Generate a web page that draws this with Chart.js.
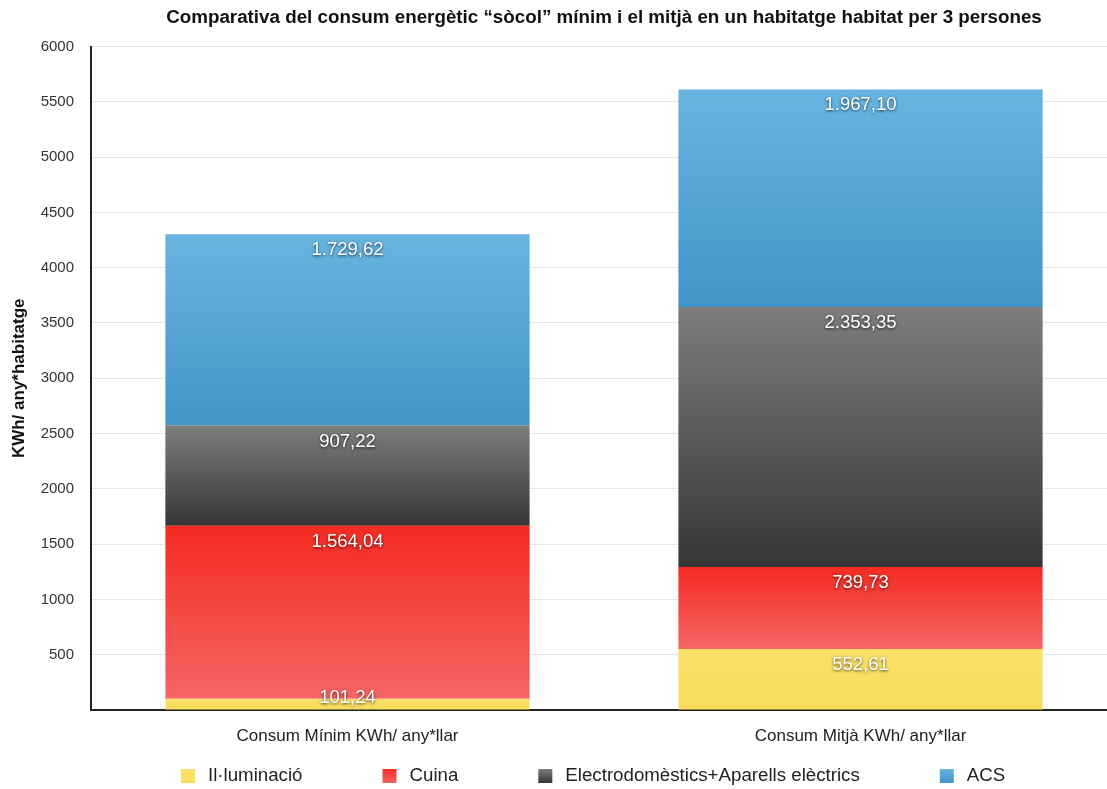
<!DOCTYPE html>
<html>
<head>
<meta charset="utf-8">
<script src="https://cdn.jsdelivr.net/npm/chart.js@4/dist/chart.umd.min.js"></script>
<style>
    html, body { margin: 0; padding: 0; background: #fff; overflow: hidden; }
    #chart { display: block; }
</style>
</head>
<body>
<!-- the plot runs a little past the right edge of the window, as in the original -->
<canvas id="chart" width="1117" height="789"></canvas>
<script>
// Data
const categories = ['Consum Mínim KWh/ any*llar', 'Consum Mitjà KWh/ any*llar'];
const seriesNames = ['Il·luminació', 'Cuina', 'Electrodomèstics+Aparells elèctrics', 'ACS'];
const illuminacio = [101.24, 552.61];
const cuina = [1564.04, 739.73];
const electro = [907.22, 2353.35];
const acs = [1729.62, 1967.10];
const yTicks = [0, 500, 1000, 1500, 2000, 2500, 3000, 3500, 4000, 4500, 5000, 5500, 6000];

// top / bottom colour of each series gradient
const gradientStops = [
    ['#fbe068', '#f9dc5c'],
    ['#f42b22', '#f46664'],
    ['#7d7d7d', '#363636'],
    ['#68b4e1', '#4294c8']
];

const FONT = '"Liberation Sans", Arial, Helvetica, sans-serif';

// Catalan number format: 1.729,62
function formatCa(v) {
    const parts = v.toFixed(2).split('.');
    const intPart = parts[0].replace(/\B(?=(\d{3})+(?!\d))/g, '.');
    return intPart + ',' + parts[1];
}

function segmentGradient(ctx) {
    const chart = ctx.chart;
    const stops = gradientStops[ctx.datasetIndex];
    const yScale = chart.scales.y;
    if (!chart.chartArea || !yScale || ctx.dataIndex === undefined) {
        return stops[1];
    }
    let cum = 0;
    for (let i = 0; i <= ctx.datasetIndex; i++) {
        cum += chart.data.datasets[i].data[ctx.dataIndex];
    }
    const v = chart.data.datasets[ctx.datasetIndex].data[ctx.dataIndex];
    const top = yScale.getPixelForValue(cum);
    const bottom = yScale.getPixelForValue(cum - v);
    const g = chart.ctx.createLinearGradient(0, top, 0, bottom);
    g.addColorStop(0, stops[0]);
    g.addColorStop(1, stops[1]);
    return g;
}

// white value labels near the top of each segment
const valueLabels = {
    id: 'valueLabels',
    afterDatasetsDraw(chart) {
        const ctx = chart.ctx;
        ctx.save();
        ctx.font = '18.5px ' + FONT;
        ctx.textAlign = 'center';
        ctx.textBaseline = 'middle';
        ctx.fillStyle = '#ffffff';
        ctx.shadowColor = 'rgba(0,0,0,0.75)';
        ctx.shadowBlur = 3;
        ctx.shadowOffsetY = 1;
        chart.data.datasets.forEach((ds, di) => {
            const meta = chart.getDatasetMeta(di);
            meta.data.forEach((bar, i) => {
                const top = Math.min(bar.y, bar.base);
                const bottom = Math.max(bar.y, bar.base);
                const y = Math.min(top + 16, bottom - 12);
                ctx.fillText(formatCa(ds.data[i]), bar.x, y);
            });
        });
        ctx.restore();
    }
};

// legend row under the chart
const bottomLegend = {
    id: 'bottomLegend',
    afterDraw(chart) {
        const ctx = chart.ctx;
        const area = chart.chartArea;
        const box = 14, textGap = 13, itemGap = 80;
        ctx.save();
        ctx.font = '18.7px ' + FONT;
        ctx.textBaseline = 'middle';
        ctx.textAlign = 'left';
        let x = area.left + 90;
        const y = 776;
        seriesNames.forEach((name, i) => {
            const g = ctx.createLinearGradient(0, y - box / 2, 0, y + box / 2);
            g.addColorStop(0, gradientStops[i][0]);
            g.addColorStop(1, gradientStops[i][1]);
            ctx.fillStyle = g;
            ctx.fillRect(x, y - box / 2, box, box);
            ctx.fillStyle = '#222';
            ctx.fillText(name, x + box + textGap, y);
            x += box + textGap + ctx.measureText(name).width + itemGap;
        });
        ctx.restore();
    }
};

const seriesValues = [illuminacio, cuina, electro, acs];

new Chart(document.getElementById('chart'), {
    type: 'bar',
    data: {
        labels: categories,
        datasets: seriesNames.map((name, i) => ({
            label: name,
            data: seriesValues[i],
            backgroundColor: segmentGradient,
            borderWidth: 0,
            barPercentage: 0.71,
            categoryPercentage: 1
        }))
    },
    options: {
        responsive: false,
        animation: false,
        layout: {
            padding: { top: 0, left: 0, right: 0, bottom: 39 }
        },
        plugins: {
            legend: { display: false },
            tooltip: { enabled: false },
            title: {
                display: true,
                fullSize: false,
                text: 'Comparativa del consum energètic “sòcol” mínim i el mitjà en un habitatge habitat per 3 persones',
                color: '#111',
                font: { family: FONT, size: 18.8, weight: 'bold' },
                padding: { top: 7, bottom: 17 }
            }
        },
        scales: {
            x: {
                stacked: true,
                grid: { display: false },
                border: { color: '#222', width: 2 },
                ticks: {
                    color: '#222',
                    font: { family: FONT, size: 17 },
                    padding: 8
                },
                afterFit(scale) { scale.height = 40; }
            },
            y: {
                stacked: true,
                min: 0,
                max: 6000,
                afterBuildTicks(scale) {
                    scale.ticks = yTicks.map(v => ({ value: v }));
                },
                grid: { color: '#e6e6e6', drawTicks: false },
                border: { color: '#222', width: 2 },
                ticks: {
                    color: '#333',
                    font: { family: FONT, size: 15 },
                    padding: 17,
                    callback: v => (v === 0 ? '' : String(v))
                },
                title: {
                    display: true,
                    text: 'KWh/ any*habitatge',
                    color: '#111',
                    font: { family: FONT, size: 17, weight: 'bold' },
                    padding: { top: 9, bottom: 0 }
                },
                afterFit(scale) { scale.width = 91; }
            }
        }
    },
    plugins: [valueLabels, bottomLegend]
});
</script>
</body>
</html>
